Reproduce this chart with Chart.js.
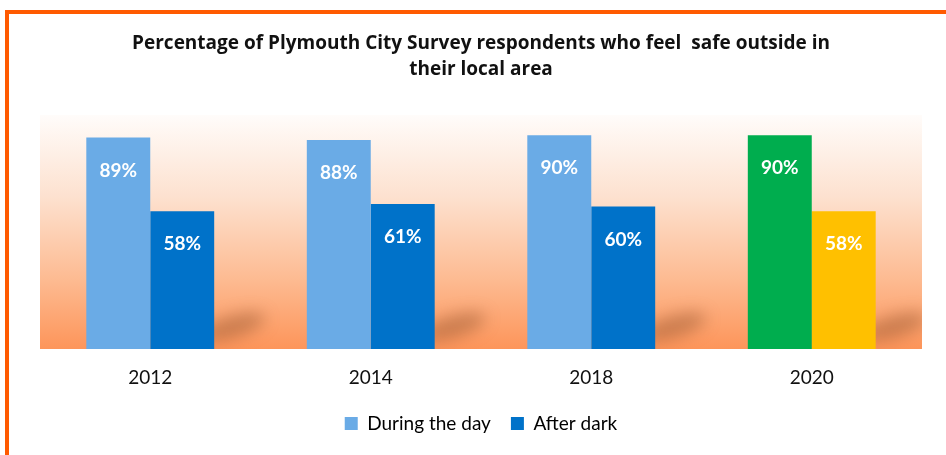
<!DOCTYPE html>
<html>
<head>
<meta charset="utf-8">
<script src="https://cdn.jsdelivr.net/npm/chart.js@4"></script>
<style>
  body { margin: 0; background: #fff; }
  #wrap { position: relative; width: 946px; height: 455px; }
  #frame {
    position: absolute; left: 5px; top: 10px; right: -10px; bottom: -10px;
    border-left: 4px solid #ff5a00; border-top: 4px solid #ff5a00;
    pointer-events: none;
  }
</style>
</head>
<body>
<div id="wrap">
  <canvas id="chart" width="946" height="455"></canvas>
  <div id="frame"></div>
</div>
<script>
const years = ["2012", "2014", "2018", "2020"];
const duringDay = [89, 88, 90, 90];
const afterDark = [58, 61, 60, 58];
const dayColors = ["#6aabe6", "#6aabe6", "#6aabe6", "#00ad4e"];
const darkColors = ["#0072c9", "#0072c9", "#0072c9", "#ffc000"];

// fondo degradado del area del grafico
const fondoPlugin = {
  id: "fondo",
  beforeDatasetsDraw(chart) {
    const { ctx, chartArea: a } = chart;
    const g = ctx.createLinearGradient(0, a.top, 0, a.bottom);
    g.addColorStop(0, "#fffcfa");
    g.addColorStop(0.35, "#fde1cf");
    g.addColorStop(0.7, "#fdbb92");
    g.addColorStop(1, "#fd955a");
    ctx.save();
    ctx.fillStyle = g;
    ctx.fillRect(a.left, a.top, a.right - a.left, a.bottom - a.top);

    // sombras de las barras
    ctx.beginPath();
    ctx.rect(a.left, a.top, a.right - a.left, a.bottom - a.top);
    ctx.clip();
    ctx.filter = "blur(8px)";
    ctx.fillStyle = "rgba(130,70,35,0.4)";
    chart.getDatasetMeta(1).data.forEach((bar) => {
      const x = bar.x + bar.width / 2 + 18;
      const y = a.bottom - 22;
      ctx.beginPath();
      ctx.ellipse(x, y, 34, 11, -0.3, 0, Math.PI * 2);
      ctx.fill();
    });
    ctx.restore();
  },
};

const etiquetasPlugin = {
  id: "etiquetas",
  afterDatasetsDraw(chart) {
    const { ctx } = chart;
    ctx.save();
    ctx.fillStyle = "#fff";
    ctx.font = "bold 19px Lato";
    ctx.textAlign = "center";
    ctx.textBaseline = "middle";
    chart.data.datasets.forEach((ds, i) => {
      chart.getDatasetMeta(i).data.forEach((bar, j) => {
        ctx.fillText(ds.data[j] + "%", bar.x, bar.y + 33);
      });
    });
    ctx.restore();
  },
};

new Chart(document.getElementById("chart"), {
  type: "bar",
  data: {
    labels: years,
    datasets: [
      {
        label: "During the day",
        data: duringDay,
        backgroundColor: dayColors,
        borderWidth: 0,
        categoryPercentage: 0.58,
        barPercentage: 1.0,
      },
      {
        label: "After dark",
        data: afterDark,
        backgroundColor: darkColors,
        borderWidth: 0,
        categoryPercentage: 0.58,
        barPercentage: 1.0,
      },
    ],
  },
  options: {
    responsive: false,
    animation: false,
    layout: { padding: { left: 40, right: 24, top: 0, bottom: 12 } },
    scales: {
      x: {
        grid: { display: false, drawTicks: false },
        border: { display: false },
        ticks: { color: "#111", font: { family: "Lato", size: 19 }, padding: 17 },
        afterFit(scale) {
          scale.height = 45;
        },
      },
      y: {
        display: false,
        min: 0,
        max: 98.5,
      },
    },
    plugins: {
      title: {
        display: true,
        text: [
          "Percentage of Plymouth City Survey respondents who feel  safe outside in",
          "their local area",
        ],
        color: "#111",
        font: { family: "Open Sans", size: 19, weight: "bold", lineHeight: 1.37 },
        padding: { top: 31, bottom: 32 },
      },
      legend: {
        position: "bottom",
        labels: {
          color: "#222",
          font: { family: "Lato", size: 19 },
          boxWidth: 13,
          boxHeight: 13,
          padding: 20,
          generateLabels() {
            return [
              { text: "During the day", fillStyle: "#6aabe6", strokeStyle: "#6aabe6", lineWidth: 0, datasetIndex: 0 },
              { text: "After dark", fillStyle: "#0072c9", strokeStyle: "#0072c9", lineWidth: 0, datasetIndex: 1 },
            ];
          },
        },
      },
      tooltip: { enabled: false },
    },
  },
  plugins: [fondoPlugin, etiquetasPlugin],
});
</script>
</body>
</html>
